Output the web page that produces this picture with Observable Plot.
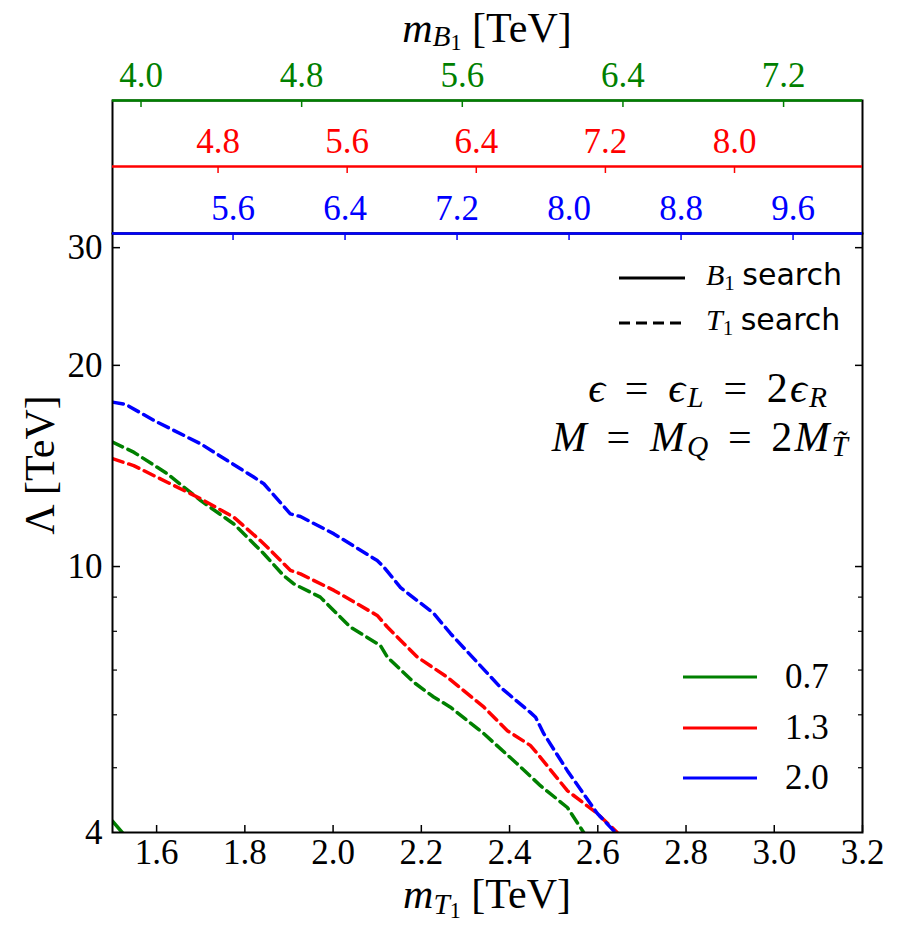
<!DOCTYPE html>
<html><head><meta charset="utf-8">
<script src="https://cdn.jsdelivr.net/npm/d3@7"></script>
<script src="https://cdn.jsdelivr.net/npm/@observablehq/plot@0.6"></script>
<style>
body{margin:0;background:#fff}
#wrap{position:relative;width:900px;height:942px;background:#fff;overflow:hidden}
#wrap svg text{font-family:"Liberation Serif",serif}
.abs{position:absolute;white-space:nowrap;line-height:1}
.ser{font-family:"Liberation Serif",serif;color:#000}
.it{font-style:italic}
.sb{font-size:0.7em;position:relative;top:0.24em}
.sb2{font-size:0.75em;position:relative;top:0.2em;font-style:normal}
.sans{font-family:"DejaVu Sans",sans-serif;font-style:normal}
.eq{margin:0 0.42em;font-style:normal}
</style></head><body><div id="wrap"></div>
<script>
// ---------- data ----------
const mT1Ticks = [1.6, 1.8, 2.0, 2.2, 2.4, 2.6, 2.8, 3.0, 3.2];
const lambdaMajor = [10, 20, 30];
const lambdaMinor = [5, 6, 7, 8, 9];
const lambdaLabels = [4, 10, 20, 30];
const epsValues = ["0.7", "1.3", "2.0"];
const epsColors = ["green", "red", "blue"];

const greenB1Domain = [3.858, 7.593];
const redB1Domain = [4.146, 8.793];
const blueB1Domain = [4.739, 10.096];
const greenB1Ticks = [4.0, 4.8, 5.6, 6.4, 7.2];
const redB1Ticks = [4.8, 5.6, 6.4, 7.2, 8.0];
const blueB1Ticks = [5.6, 6.4, 7.2, 8.0, 8.8, 9.6];

// T1 search (dashed)
const t1Eps07X = [1.50, 1.548, 1.624, 1.70, 1.775, 1.843, 1.888, 1.911, 1.971, 2.039, 2.107, 2.123, 2.183, 2.228, 2.266, 2.342, 2.417, 2.470, 2.531, 2.568];
const t1Eps07Y = [15.35, 14.83, 13.77, 12.55, 11.58, 10.45, 9.69, 9.42, 9.00, 8.12, 7.62, 7.32, 6.71, 6.38, 6.16, 5.62, 5.07, 4.70, 4.36, 4.0];
const t1Eps13X = [1.50, 1.548, 1.624, 1.70, 1.775, 1.835, 1.851, 1.903, 1.926, 2.002, 2.100, 2.123, 2.191, 2.259, 2.342, 2.395, 2.447, 2.463, 2.531, 2.599, 2.644];
const t1Eps13Y = [14.5, 14.16, 13.37, 12.63, 11.85, 10.94, 10.69, 9.87, 9.75, 9.21, 8.45, 8.12, 7.32, 6.83, 6.16, 5.68, 5.40, 5.25, 4.62, 4.27, 4.0];
const t1Eps20X = [1.50, 1.53, 1.594, 1.70, 1.82, 1.843, 1.903, 1.926, 2.002, 2.10, 2.115, 2.153, 2.228, 2.266, 2.379, 2.447, 2.459, 2.477, 2.531, 2.599, 2.64];
const t1Eps20Y = [17.62, 17.48, 16.54, 15.26, 13.61, 13.30, 11.99, 11.88, 11.19, 10.21, 9.98, 9.30, 8.51, 7.94, 6.60, 6.05, 5.95, 5.63, 4.95, 4.27, 4.0];
// B1 search (solid)
const b1Eps07X = [1.50, 1.522];
const b1Eps07Y = [4.16, 4.0];

const searchLabels = ["B1", "T1"];

// ---------- build rows ----------
const seriesList = [
  {eps: "0.7", search: "T1", xs: t1Eps07X, ys: t1Eps07Y},
  {eps: "1.3", search: "T1", xs: t1Eps13X, ys: t1Eps13Y},
  {eps: "2.0", search: "T1", xs: t1Eps20X, ys: t1Eps20Y},
  {eps: "0.7", search: "B1", xs: b1Eps07X, ys: b1Eps07Y}
];
const rows = seriesList.flatMap(s => s.xs.map((x, i) => ({x, y: s.ys[i], eps: s.eps, search: s.search, key: s.search + s.eps})));

const fmt1 = d3.format(".1f");
const wrap = document.getElementById("wrap");
const FONT = '"Liberation Serif", serif';
const M = {left: 112, right: 38};

// ---------- main plot ----------
const main = Plot.plot({
  width: 900, height: 942,
  marginTop: 233, marginBottom: 110, marginLeft: M.left, marginRight: M.right,
  style: {fontFamily: FONT, fontSize: "35px", color: "black", background: "transparent", overflow: "visible"},
  x: {domain: [1.5, 3.2]},
  y: {type: "log", domain: [4, 31.5]},
  color: {domain: epsValues, range: epsColors},
  marks: [
    Plot.line(rows.filter(d => d.search === "T1"), {x: "x", y: "y", z: "key", stroke: "eps", strokeWidth: 3.5, strokeDasharray: "11,6", clip: true}),
    Plot.line(rows.filter(d => d.search === "B1"), {x: "x", y: "y", z: "key", stroke: "eps", strokeWidth: 3.5, clip: true}),
    Plot.frame({stroke: "black", strokeWidth: 2}),
    Plot.axisX(mT1Ticks, {anchor: "bottom", tickSize: 7, dy: -7, tickFormat: () => "", strokeWidth: 1.5, label: null}),
    Plot.axisX(mT1Ticks, {anchor: "bottom", tickSize: 0, tickPadding: 7, tickFormat: fmt1, fontFamily: FONT, label: null}),
    Plot.axisY(lambdaMajor, {anchor: "left", tickSize: 8, dx: 8, tickFormat: () => "", strokeWidth: 1.5, label: null}),
    Plot.axisY(lambdaMinor, {anchor: "left", tickSize: 5, dx: 5, tickFormat: () => "", strokeWidth: 1.2, label: null}),
    Plot.axisY(lambdaMajor, {anchor: "right", tickSize: 8, dx: -8, tickFormat: () => "", strokeWidth: 1.5, label: null}),
    Plot.axisY(lambdaMinor, {anchor: "right", tickSize: 5, dx: -5, tickFormat: () => "", strokeWidth: 1.2, label: null}),
    Plot.axisY(lambdaLabels, {anchor: "left", tickSize: 0, tickPadding: 10, tickFormat: d => String(d), fontFamily: FONT, label: null})
  ]
});
main.style.position = "absolute"; main.style.left = "0px"; main.style.top = "0px";
wrap.appendChild(main);

// ---------- box between the stacked top axes ----------
const box = Plot.plot({
  width: 900, height: 139, marginTop: 3, marginBottom: 3, marginLeft: M.left, marginRight: M.right,
  style: {background: "transparent", overflow: "visible"},
  marks: [Plot.frame({stroke: "black", strokeWidth: 2})]
});
box.style.position = "absolute"; box.style.left = "0px"; box.style.top = "97px";
wrap.appendChild(box);

// ---------- stacked top axes (m_B1 for each epsilon) ----------
function topAxis(domain, ticks, color, lineY) {
  const mt = 60, tk = 7;
  const p = Plot.plot({
    width: 900, height: mt + tk, marginTop: mt, marginBottom: 0, marginLeft: M.left, marginRight: M.right,
    style: {fontFamily: FONT, fontSize: "35px", background: "transparent", overflow: "visible"},
    x: {domain},
    y: {domain: [0, 1], axis: null},
    marks: [
      Plot.tickX(ticks, {x: d => d, stroke: color, strokeWidth: 1.5}),
      Plot.ruleY([1], {stroke: color, strokeWidth: 2.5}),
      Plot.axisX(ticks, {anchor: "top", tickSize: 0, tickPadding: 14, tickFormat: fmt1, color, fill: color, fontFamily: FONT, label: null})
    ]
  });
  p.style.position = "absolute"; p.style.left = "0px"; p.style.top = (lineY - mt) + "px";
  wrap.appendChild(p);
}
topAxis(blueB1Domain, blueB1Ticks, epsColors[2], 233);
topAxis(redB1Domain, redB1Ticks, epsColors[1], 166);
topAxis(greenB1Domain, greenB1Ticks, epsColors[0], 100);

// ---------- text, titles & legends ----------
function addDiv(html, style, cls) {
  const d = document.createElement("div");
  d.className = "abs ser " + (cls || "");
  d.innerHTML = html;
  Object.assign(d.style, style);
  wrap.appendChild(d);
  return d;
}
// axis titles
addDiv('<span class="it">m</span><span class="sb it" style="top:0.2em">T<span class="sb2">1</span></span> [TeV]',
  {left: M.left + "px", width: (900 - M.left - M.right) + "px", textAlign: "center", top: "879px", fontSize: "42px", lineHeight: "0.75"});
addDiv('<span class="it">m</span><span class="sb it" style="top:0.15em">B<span class="sb2" style="top:0.15em">1</span></span> [TeV]',
  {left: M.left + "px", width: (900 - M.left - M.right) + "px", textAlign: "center", top: "13px", fontSize: "42px", lineHeight: "0.75"});
addDiv('Λ [TeV]',
  {left: "40px", top: "465px", fontSize: "42px", transform: "translate(-50%,-50%) rotate(-90deg)"});

// annotations
addDiv('<span class="it">ϵ</span><span class="eq">=</span><span class="it">ϵ</span><span class="sb it" style="top:0.18em">L</span><span class="eq">=</span>2<span class="it">ϵ</span><span class="sb it" style="top:0.18em">R</span>',
  {right: "71px", top: "372px", fontSize: "42px", lineHeight: "0.8", letterSpacing: "0.05em"});
addDiv('<span class="it">M</span><span class="eq">=</span><span class="it">M</span><span class="sb it" style="top:0.18em">Q</span><span class="eq">=</span>2<span class="it">M</span><span class="sb it" style="top:0.18em">T̃</span>',
  {right: "50px", top: "421px", fontSize: "42px", lineHeight: "0.8", letterSpacing: "0.05em"});

// search legend (line style)
function lineSwatch(color, dash, left, y, len) {
  const s = document.createElementNS("http://www.w3.org/2000/svg", "svg");
  s.setAttribute("width", len); s.setAttribute("height", 10);
  s.style.position = "absolute"; s.style.left = left + "px"; s.style.top = (y - 5) + "px";
  const l = document.createElementNS("http://www.w3.org/2000/svg", "line");
  l.setAttribute("x1", 0); l.setAttribute("x2", len); l.setAttribute("y1", 5); l.setAttribute("y2", 5);
  l.setAttribute("stroke", color); l.setAttribute("stroke-width", 3);
  if (dash) l.setAttribute("stroke-dasharray", dash);
  s.appendChild(l); wrap.appendChild(s);
}
const searchY = [278, 323];
searchLabels.forEach((lab, i) => {
  lineSwatch("black", i === 0 ? null : "11,6", 619, searchY[i], 66);
  addDiv('<span class="it">' + lab[0] + '</span><span class="sb">' + lab[1] + '</span> <span class="sans">search</span>',
    {left: "706px", top: (searchY[i] - 18) + "px", fontSize: "30px"});
});

// epsilon legend (colour)
const epsY = [677, 728, 778];
epsValues.forEach((v, i) => {
  lineSwatch(epsColors[i], null, 683, epsY[i], 74);
  addDiv(v, {left: "785px", top: (epsY[i] - 18) + "px", fontSize: "35px"});
});
</script></body></html>
